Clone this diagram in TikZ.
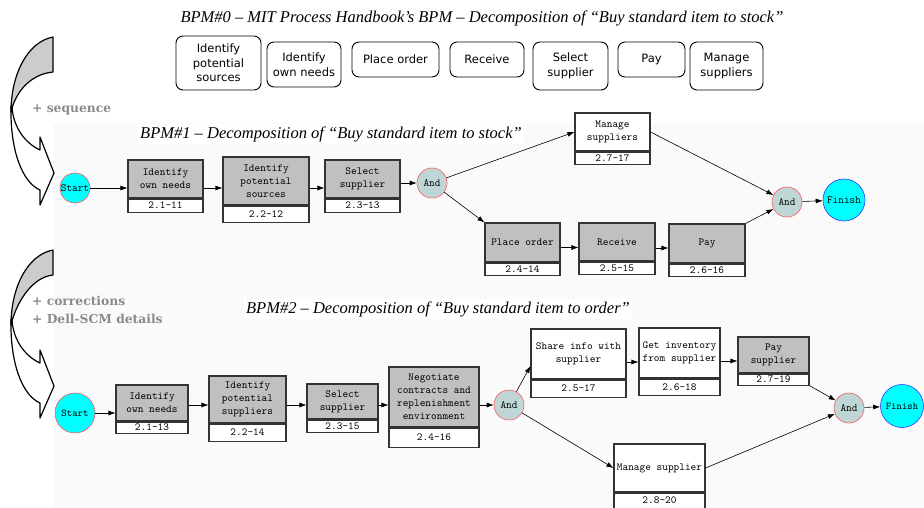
\documentclass[tikz,border=0pt]{standalone}
\usepackage{fontspec}
\setmainfont{Liberation Serif}
\newfontfamily\boxfont{DejaVu Sans}
\newfontfamily\notefont{DejaVu Serif}
\usetikzlibrary{arrows.meta}
\definecolor{boxgrey}{HTML}{C0C0C0}
\definecolor{andfill}{HTML}{BFD6D6}
\definecolor{startcyan}{HTML}{00FFFF}
\definecolor{notegrey}{HTML}{8A8A8A}
\definecolor{panel}{HTML}{FAFAFA}
\tikzset{
  pstep/.style={draw=black!80, line width=1.1pt, inner sep=0pt, align=center,
    font=\ttfamily\fontsize{10.8}{13}\selectfont},
  pnum/.style={pstep, fill=white, font=\ttfamily\fontsize{10.8}{11}\selectfont},
  hbox/.style={draw, line width=0.9pt, rounded corners=7pt, inner sep=0pt, align=center,
    font=\boxfont\fontsize{11.5}{14.5}\selectfont},
  gate/.style={circle, draw=red!65, fill=andfill, line width=0.6pt, inner sep=0pt,
    minimum size=30pt, font=\ttfamily\fontsize{11}{11}\selectfont},
  startn/.style={gate, fill=startcyan},
  finishn/.style={gate, draw=blue!80, fill=startcyan, minimum size=42pt},
  flow/.style={-{Latex[length=7pt,width=5pt]}, line width=0.6pt},
  bpmtitle/.style={fill=white, inner sep=2pt, font=\itshape\fontsize{16.5}{19}\selectfont},
  note/.style={anchor=west, inner sep=0pt, text=notegrey, align=left,
    font=\notefont\bfseries\fontsize{12.3}{17.5}\selectfont},
  ribbon/.style={draw=black, line width=1.2pt, line join=round}
}
% handbook box: name, left, top, right, bottom, text
\newcommand\hbstep[6]{%
  \node[hbox, minimum width=#4pt-#2pt, minimum height=#5pt-#3pt]
    (#1) at ({(#2+#4)/2},{(#3+#5)/2}) {#6};}
% process step: name, left, top, right, divider, bottom, fill, text, number
\newcommand\pstep[9]{%
  \node[pstep, fill=#7, minimum width=#4pt-#2pt, minimum height=#5pt-#3pt]
    (#1) at ({(#2+#4)/2},{(#3+#5)/2}) {#8};
  \node[pnum, minimum width=#4pt-#2pt, minimum height=#6pt-#5pt, anchor=north]
    (#1-n) at (#1.south) {#9};}
\begin{document}
\begin{tikzpicture}[x=1pt,y=-1pt]
  \useasboundingbox (0,0) rectangle (924,507);
  \fill[panel] (53,123) rectangle (924,507);

  % curved arrows on the left
  \foreach \dy/\iy in {0/72, 213/62}
  {
    \begin{scope}[shift={(0,\dy)}]
      \filldraw[ribbon, fill=black!20] (53,37) .. controls (27,42) and (11,75) .. (11,112)
        .. controls (16,90) and (32,\iy+2) .. (53,\iy) -- cycle;
      \filldraw[ribbon, fill=white] (11,106) .. controls (10,150) and (22,182) .. (40,190)
        -- (40,205) -- (54,173) -- (40,137) -- (40,150)
        .. controls (25,143) and (14,128) .. (12,108) -- cycle;
    \end{scope}
  }
  \node[note] (seq) at (32,110) {+ sequence};
  \node[note] (corr) at (32,310) {+ corrections\\+ Dell-SCM details};

  % BPM#0
  \node[bpmtitle] (t0) at (482,18) {BPM\#0 – MIT Process Handbook’s BPM – Decomposition of “Buy standard item to stock”};
  \hbstep{r1}{176}{36}{261}{90}{Identify\\potential\\sources}
  \hbstep{r2}{267}{42}{341}{87}{Identify\\own needs}
  \hbstep{r3}{352}{42}{439}{77}{Place order}
  \hbstep{r4}{450}{42}{524}{77}{Receive}
  \hbstep{r5}{533}{42}{608}{90}{Select\\supplier}
  \hbstep{r6}{618}{42}{685}{77}{Pay}
  \hbstep{r7}{690}{42}{763}{90}{Manage\\suppliers}

  % BPM#1
  \node[bpmtitle] (t1) at (331,134) {BPM\#1 – Decomposition of “Buy standard item to stock”};
  \pstep{a1}{128}{160}{203}{198}{211}{boxgrey}{Identify\\own needs}{2.1-11}
  \pstep{a2}{223}{157}{309}{205}{221}{boxgrey}{Identify\\potential\\sources}{2.2-12}
  \pstep{a3}{325}{160}{400}{198}{211}{boxgrey}{Select\\supplier}{2.3-13}
  \pstep{a4}{575}{113}{650}{151}{163}{white}{Manage\\suppliers}{2.7-17}
  \pstep{a5}{485}{223}{560}{262}{274}{boxgrey}{Place order}{2.4-14}
  \pstep{a6}{579}{223}{655}{261}{273}{boxgrey}{Receive}{2.5-15}
  \pstep{a7}{669}{224}{745}{263}{275}{boxgrey}{Pay}{2.6-16}
  \node[startn] (s1) at (75,188) {Start};
  \node[gate] (g1) at (432,183) {And};
  \node[gate] (g2) at (787,202) {And};
  \node[finishn] (f1) at (844,200) {Finish};

  \draw[flow] (s1) -- (s1 -| a1.west);
  \draw[flow] (a1.east |- s1) -- (a2.west |- s1);
  \draw[flow] (a2.east |- s1) -- (a3.west |- s1);
  \draw[flow] (a3.east |- g1) -- (g1);
  \draw[flow] (g1) -- (a4.west);
  \draw[flow] (g1) -- (a5.north west);
  \draw[flow] ([yshift=-5pt]a5.east) -- ([yshift=-5pt]a5.east -| a6.west);
  \draw[flow] ([yshift=-6pt]a6.east) -- ([yshift=-6pt]a6.east -| a7.west);
  \draw[flow] (a7.north east) -- (g2);
  \draw[flow] (a4.east) -- (g2);
  \draw[flow] (g2) -- (f1);

  % BPM#2
  \node[bpmtitle] (t2) at (438,309) {BPM\#2 – Decomposition of “Buy standard item to order”};
  \pstep{b1}{116}{385}{188}{421}{432}{boxgrey}{Identify\\own needs}{2.1-13}
  \pstep{b2}{209}{376}{286}{423}{440}{boxgrey}{Identify\\potential\\suppliers}{2.2-14}
  \pstep{b3}{307}{384}{378}{419}{431}{boxgrey}{Select\\supplier}{2.3-15}
  \pstep{b4}{389}{367}{479}{427}{446}{boxgrey}{Negotiate\\contracts and\\replenishment\\environment}{2.4-16}
  \pstep{b5}{531}{329}{626}{379}{396}{white}{Share info with\\supplier}{2.5-17}
  \pstep{b6}{639}{328}{720}{378}{394}{white}{Get inventory\\from supplier}{2.6-18}
  \pstep{b7}{738}{337}{809}{373}{384}{boxgrey}{Pay\\supplier}{2.7-19}
  \pstep{b8}{614}{444}{705}{492}{507}{white}{Manage supplier}{2.8-20}
  \node[startn, minimum size=40pt, font=\ttfamily\fontsize{10.3}{11}\selectfont] (s2) at (75,413) {Start};
  \node[gate] (c1) at (509,405) {And};
  \node[gate] (c2) at (849,408) {And};
  \node[finishn, minimum size=43pt, font=\ttfamily\fontsize{10.3}{11}\selectfont] (f2) at (902,406) {Finish};

  \draw[flow] (s2) -- (s2 -| b1.west);
  \draw[flow] (b1.east |- c1) -- (b2.west |- c1);
  \draw[flow] (b2.east |- c1) -- (b3.west |- c1);
  \draw[flow] (b3.east |- c1) -- (b4.west |- c1);
  \draw[flow] (b4.east |- c1) -- (c1);
  \draw[flow] (c1) -- ([yshift=-12pt]b5.west);
  \draw[flow] (c1) -- (b8.west);
  \draw[flow] ([yshift=-8pt]b5.east) -- ([yshift=-8pt]b5.east -| b6.west);
  \draw[flow] ([yshift=-8pt]b6.east) -- ([yshift=-8pt]b6.east -| b7.west);
  \draw[flow] (b7-n.south east) -- (c2);
  \draw[flow] (b8.east) -- (c2);
  \draw[flow] (c2) -- (f2);
\end{tikzpicture}
\end{document}
